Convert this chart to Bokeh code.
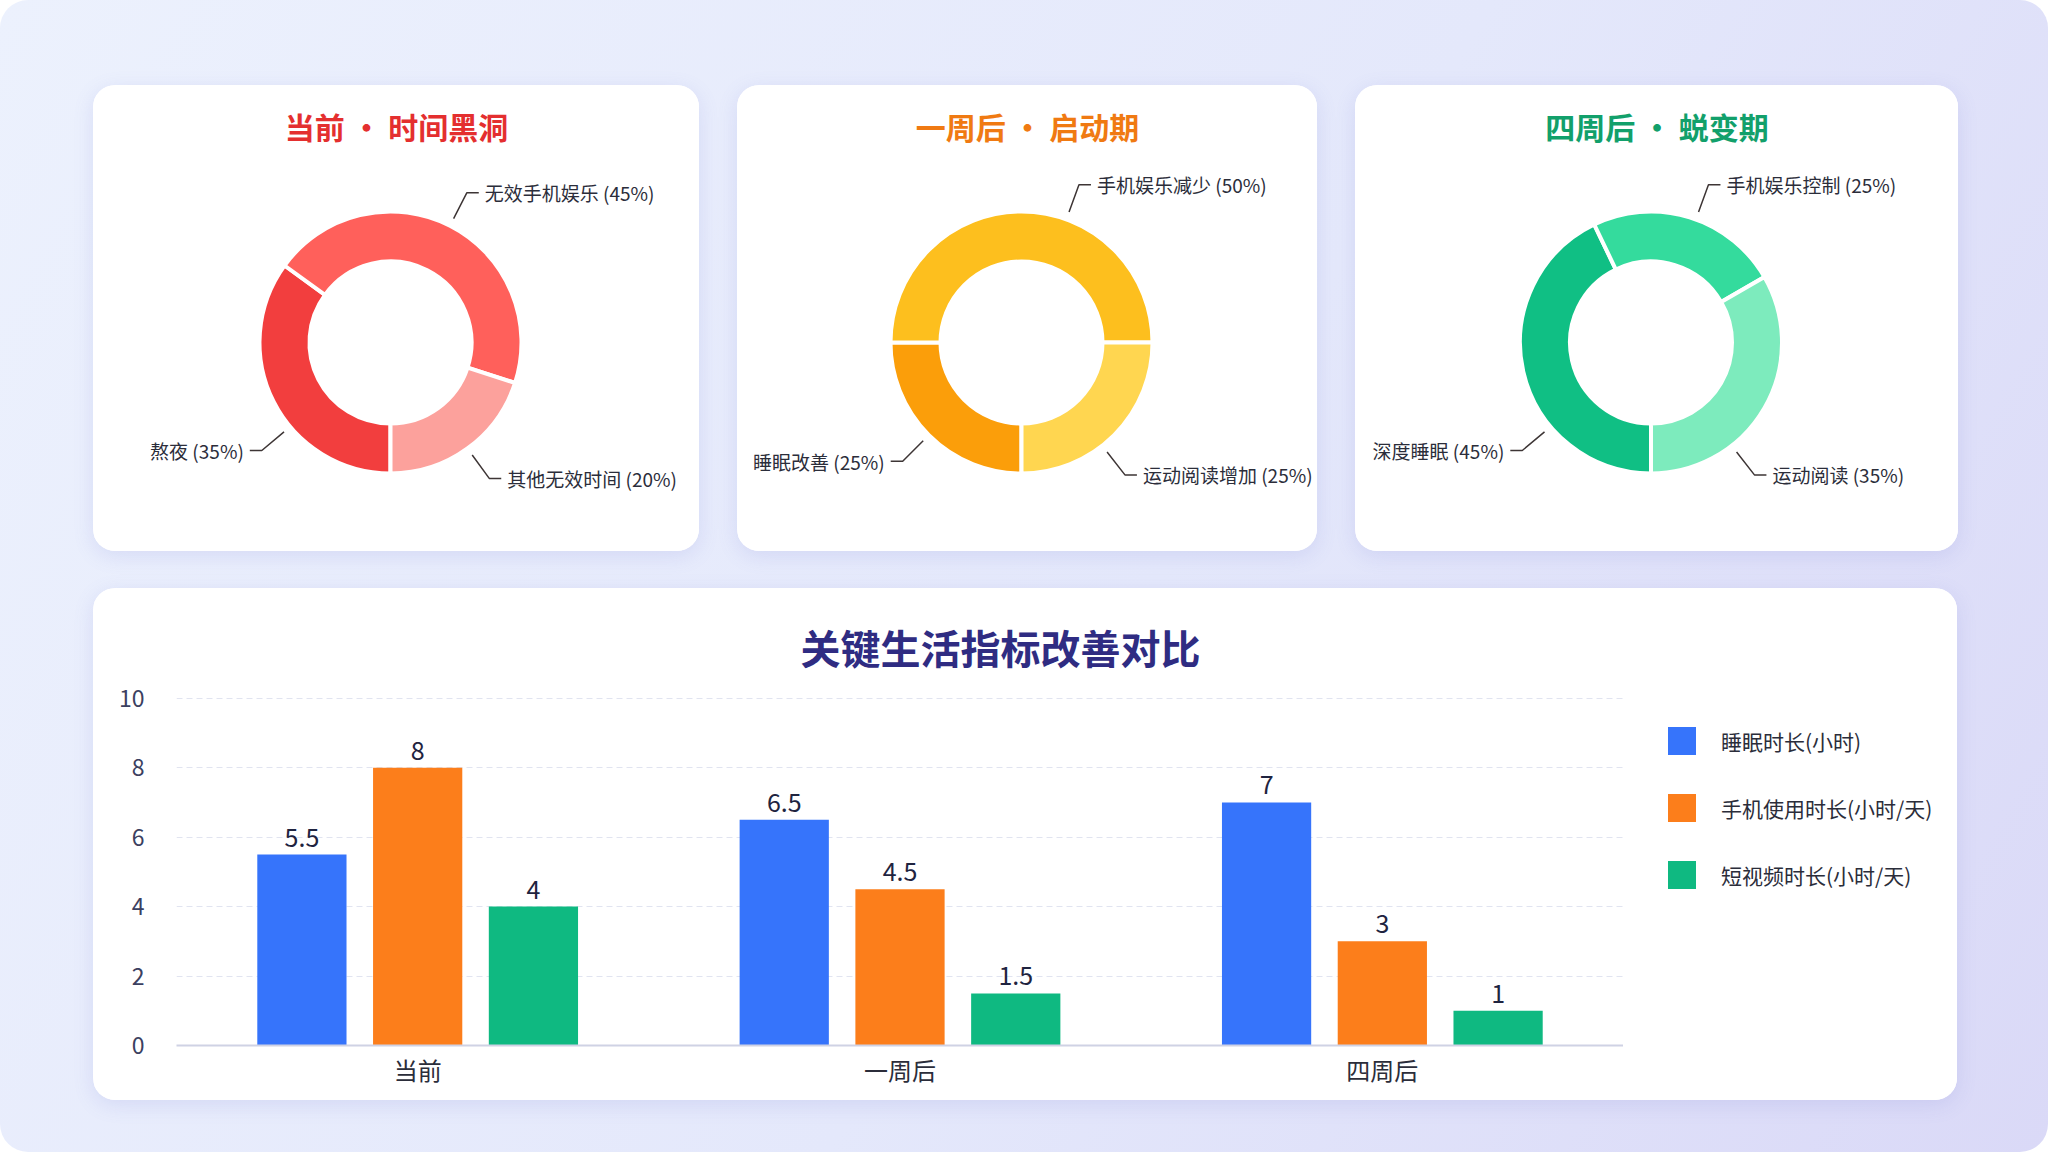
import numpy as np

from bokeh.core.properties import value
from bokeh.embed import file_html
from bokeh.layouts import column, row
from bokeh.models import ColumnDataSource, FactorRange, FixedTicker, Legend, LegendItem, Range1d
from bokeh.plotting import figure
from bokeh.resources import INLINE
from bokeh.transform import dodge

FONT = "Noto Sans CJK SC"

# donut data, slices run clockwise from 6 o'clock
now_title = "当前 · 时间黑洞"
now_labels = ["熬夜", "无效手机娱乐", "其他无效时间"]
now_values = [35, 45, 20]

week1_title = "一周后 · 启动期"
week1_labels = ["睡眠改善", "手机娱乐减少", "运动阅读增加"]
week1_values = [25, 50, 25]

week4_title = "四周后 · 蜕变期"
week4_labels = ["深度睡眠", "手机娱乐控制", "运动阅读"]
week4_values = [45, 25, 35]

# bar chart data
periods = ["当前", "一周后", "四周后"]
sleep_hours = [5.5, 6.5, 7]
phone_hours = [8, 4.5, 3]
video_hours = [4, 1.5, 1]
series_names = ["睡眠时长(小时)", "手机使用时长(小时/天)", "短视频时长(小时/天)"]
y_ticks = [0, 2, 4, 6, 8, 10]

# styles
now_colors = ["#f23e3e", "#ff605b", "#fca19c"]
week1_colors = ["#fb9e0a", "#fdbf1e", "#ffd650"]
week4_colors = ["#10bf84", "#34db9d", "#7debbd"]
bar_colors = ["#3674fb", "#fc7e1b", "#0fb981"]

CARD_H = 466
card_style = {"border-radius": "22px", "overflow": "hidden", "background": "white",
              "box-shadow": "0 5px 20px rgba(110,120,210,0.16)"}


def donut(title, title_color, labels, values, colors, w):
    p = figure(width=w, height=CARD_H, x_range=Range1d(0, w), y_range=Range1d(0, CARD_H),
               toolbar_location=None, output_backend="svg", min_border=0,
               x_axis_type=None, y_axis_type=None, outline_line_color=None,
               background_fill_color="white", border_fill_color="white", styles=card_style)

    cx, cy = w / 2 - 6, CARD_H - 257
    r_in, r_out = 81, 131

    vals = np.array(values, dtype=float)
    frac = vals / vals.sum()
    end = -np.pi / 2 - 2 * np.pi * np.cumsum(frac)
    start = end + 2 * np.pi * frac
    src = ColumnDataSource(dict(start=start, end=end, color=colors))
    p.annular_wedge(x=cx, y=cy, inner_radius=r_in, outer_radius=r_out,
                    start_angle="start", end_angle="end", direction="clock",
                    fill_color="color", line_color="white", line_width=4, source=src)

    # leader lines from the slice middle, kept off the horizontal
    xs, ys, tx, ty, align = [], [], [], [], []
    for s, e in zip(start, end):
        mid = (s + e) / 2
        side = 1 if np.cos(mid) >= -1e-9 else -1
        elev = np.arctan2(np.sin(mid), abs(np.cos(mid)))
        lo = 52 if side > 0 else 40
        mag = np.clip(abs(elev), np.radians(lo), np.radians(70))
        elev = np.sign(elev) * mag
        a = elev if side > 0 else np.pi - elev
        x0, y0 = cx + (r_out + 8) * np.cos(a), cy + (r_out + 8) * np.sin(a)
        x1, y1 = cx + (r_out + 37) * np.cos(a), cy + (r_out + 37) * np.sin(a)
        x2 = x1 + side * 12
        xs.append([x0, x1, x2])
        ys.append([y0, y1, y1])
        tx.append(x2 + side * 6)
        ty.append(y1)
        align.append("left" if side > 0 else "right")

    p.multi_line(xs, ys, line_color="#3d3535", line_width=1.5)
    lbl = ColumnDataSource(dict(x=tx, y=ty, align=align,
                                text=[f"{l} ({v}%)" for l, v in zip(labels, values)]))
    p.text(x="x", y="y", text="text", text_align="align", text_baseline="middle",
           text_font=value(FONT), text_font_size="19px", text_color="#2b2d3a", source=lbl)

    p.text(x=[w / 2], y=[CARD_H - 40], text=[title], text_align="center", text_baseline="middle",
           text_font=value(FONT), text_font_size="30px", text_font_style="bold",
           text_color=title_color)
    return p


d1 = donut(now_title, "#e42f2f", now_labels, now_values, now_colors, 606)
d2 = donut(week1_title, "#f07a12", week1_labels, week1_values, week1_colors, 580)
d3 = donut(week4_title, "#12a06b", week4_labels, week4_values, week4_colors, 603)

# grouped bars
cols = ["sleep", "phone", "video"]
data = dict(period=periods, sleep=sleep_hours, phone=phone_hours, video=video_hours)
for c in cols:
    data[c + "_txt"] = [f"{v:g}" for v in data[c]]
src = ColumnDataSource(data)

b = figure(width=1530, height=512, x_range=FactorRange(*periods, range_padding=0),
           y_range=Range1d(0, 10.05), toolbar_location=None, output_backend="svg",
           min_border_left=83, min_border_right=0, min_border_top=108, min_border_bottom=55,
           outline_line_color=None, background_fill_color="white", border_fill_color="white")

# legend lives in a narrow figure of its own, to the right of the bars
lg = figure(width=334, height=512, x_range=Range1d(0, 1), y_range=Range1d(0, 1),
            toolbar_location=None, output_backend="svg",
            min_border_left=0, min_border_right=0, min_border_top=108, min_border_bottom=55,
            x_axis_type=None, y_axis_type=None, outline_line_color=None,
            background_fill_color="white", border_fill_color="white")

offsets = [-0.24, 0.0, 0.24]
items = []
for col, off, color, name in zip(cols, offsets, bar_colors, series_names):
    b.vbar(x=dodge("period", off, range=b.x_range), top=col, width=0.185,
           fill_color=color, line_color=None, source=src)
    b.text(x=dodge("period", off, range=b.x_range), y=col, text=col + "_txt", y_offset=-8,
           text_align="center", text_baseline="bottom", text_font=value(FONT),
           text_font_size="25px", text_color="#1f2440", source=src)
    # legend key only: sits outside the legend figure's visible range
    key = lg.vbar(x=[5], top=[5], width=1, fill_color=color, line_color=None)
    items.append(LegendItem(label=name, renderers=[key]))

legend = Legend(items=items, location=(41, 153), glyph_width=35, glyph_height=35,
                label_standoff=22, spacing=32, padding=0, margin=0,
                border_line_color=None, background_fill_alpha=0,
                label_text_font=FONT, label_text_font_size="21px", label_text_color="#2b2d3a")
lg.add_layout(legend)

b.title.text = "关键生活指标改善对比"
b.title.align = "left"
b.title.offset = 624
b.title.standoff = 42
b.title.text_font = FONT
b.title.text_font_size = "40px"
b.title.text_font_style = "bold"
b.title.text_color = "#2f2c82"

b.xgrid.visible = False
b.ygrid.grid_line_color = "#e1e4f0"
b.ygrid.grid_line_dash = "6 4"
b.yaxis.ticker = FixedTicker(ticks=y_ticks)
b.yaxis.axis_line_color = None
b.yaxis.major_tick_line_color = None
b.yaxis.minor_tick_line_color = None
b.yaxis.major_label_standoff = 26
b.yaxis.major_label_text_font = FONT
b.yaxis.major_label_text_font_size = "23px"
b.yaxis.major_label_text_color = "#3b4060"
b.xaxis.axis_line_color = "#cfd2e4"
b.xaxis.axis_line_width = 2
b.xaxis.major_tick_line_color = None
b.xaxis.major_label_standoff = 0
b.xaxis.major_label_text_font = FONT
b.xaxis.major_label_text_font_size = "24px"
b.xaxis.major_label_text_color = "#2b2d3a"

top = row(d1, d2, d3, spacing=38, margin=(85, 0, 0, 93))
bottom = row(b, lg, spacing=0, margin=(37, 0, 0, 93), styles=card_style)
page = column(top, bottom, width=2048, height=1152,
              styles={"background": "linear-gradient(120deg, #ecf1fd 0%, #e4e8fb 55%, #dad9f7 100%)",
                      "border-radius": "28px"})

open("out.html", "w").write(file_html(page, INLINE))
